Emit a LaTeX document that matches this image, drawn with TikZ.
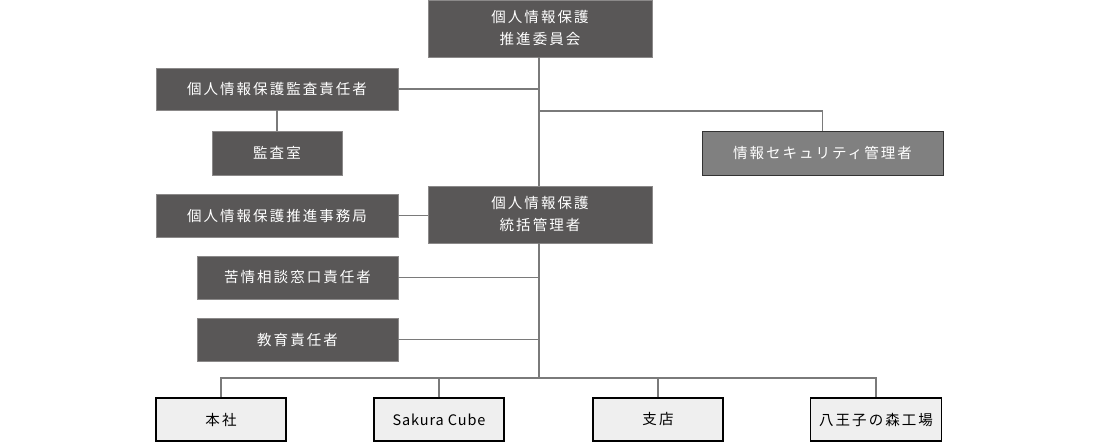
\documentclass[tikz,border=0pt]{standalone}
\usepackage{fontspec}
\newfontfamily\jp[LetterSpace=14]{Noto Sans CJK JP}
\newfontfamily\jplatin[LetterSpace=6]{Noto Sans CJK JP}
\usepackage{tikz}
\definecolor{boxdark}{HTML}{595757}
\definecolor{boxmid}{HTML}{808080}
\definecolor{boxlight}{HTML}{EFEFEF}
\definecolor{linkgray}{HTML}{7A7A7A}
\tikzstyle{darkbox} = [rectangle, fill=boxdark, draw=boxdark!70!white, text=white, align=center, inner sep=0pt]
\tikzstyle{midbox} = [rectangle, fill=boxmid, draw=black!80, line width=1pt, text=white, align=center, inner sep=0pt]
\tikzstyle{sitebox} = [rectangle, fill=boxlight, draw=black, line width=1.2pt, text=black, align=center, inner sep=0pt]
\tikzstyle{link} = [draw=linkgray, line width=1.4pt]

\begin{document}
\begin{tikzpicture}[x=1pt, y=-1pt, font=\jp\fontsize{14.5}{22}\selectfont]
\useasboundingbox (0,0) rectangle (1100,442);
% committee and audit side
\node (committee) [darkbox, minimum width=224pt, minimum height=57pt] at (540,28.5) {個人情報保護\\推進委員会};
\node (auditor) [darkbox, minimum width=242pt, minimum height=42pt] at (277,89) {個人情報保護監査責任者};
\node (auditroom) [darkbox, minimum width=130pt, minimum height=44pt] at (277,153) {監査室};
\node (security) [midbox, minimum width=241pt, minimum height=44pt] at (822.5,153) {情報セキュリティ管理者};
% management level
\node (manager) [darkbox, minimum width=224pt, minimum height=57pt] at (540,214.5) {個人情報保護\\統括管理者};
\node (office) [darkbox, minimum width=242pt, minimum height=43pt] at (277,215.5) {個人情報保護推進事務局};
\node (complaint) [darkbox, minimum width=201pt, minimum height=43pt] at (297.5,277.5) {苦情相談窓口責任者};
\node (education) [darkbox, minimum width=201pt, minimum height=43pt] at (297.5,339.5) {教育責任者};
% sites
\node (head) [sitebox, minimum width=130pt, minimum height=43pt] at (221,419.5) {本社};
\node (cube) [sitebox, minimum width=130pt, minimum height=43pt] at (439,419.5) {\jplatin Sakura Cube};
\node (branch) [sitebox, minimum width=130pt, minimum height=43pt] at (658,419.5) {支店};
\node (factory) [sitebox, minimum width=131pt, minimum height=43pt] at (876,419.5) {八王子の森工場};
\coordinate (bus) at (539,378);
% connectors
\draw [link] (committee.south -| bus) -- (manager.north -| bus);
\draw [link] (auditor.east) -- (auditor.east -| bus);
\draw [link] (auditor.south) -- (auditroom.north);
\draw [link] (bus |- 0,111) -| (security.north);
\draw [link] (office.east) -- (manager.west |- office.east);
\draw [link] (manager.south -| bus) -- (bus);
\draw [link] (complaint.east) -- (complaint.east -| bus);
\draw [link] (education.east) -- (education.east -| bus);
\draw [link] (head.north) |- (bus) -| (factory.north);
\draw [link] (cube.north) -- (cube.north |- bus);
\draw [link] (branch.north) -- (branch.north |- bus);
\end{tikzpicture}
\end{document}
